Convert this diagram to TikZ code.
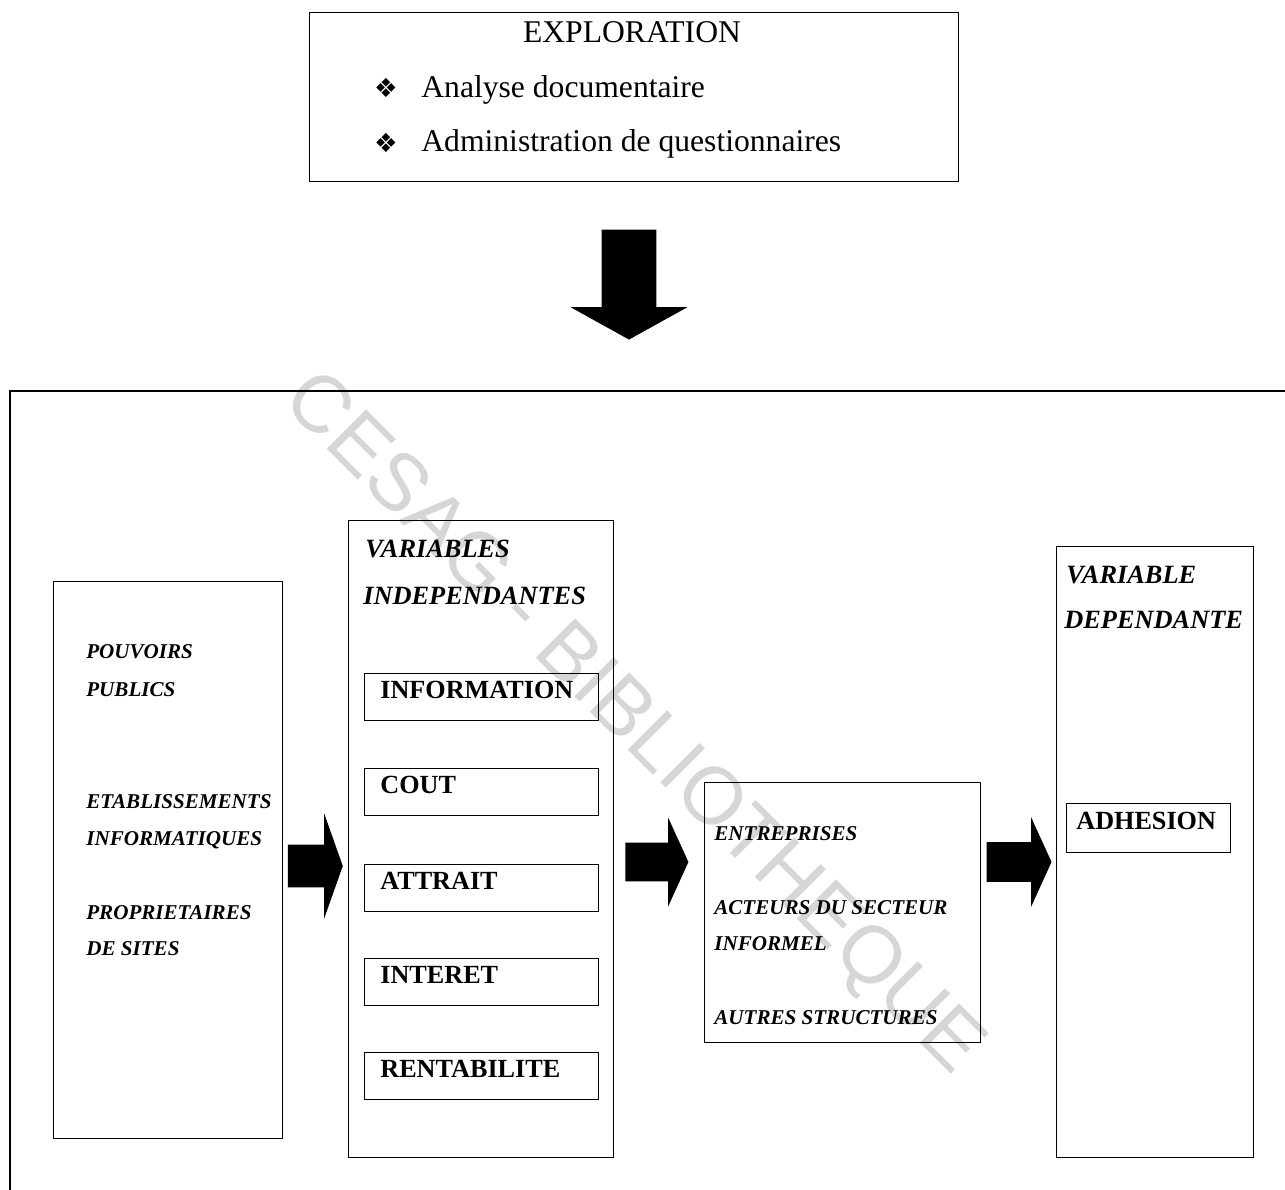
\documentclass[tikz,border=0pt]{standalone}
\usepackage{fontspec}
\setmainfont{Liberation Serif}
\newfontfamily\symbole{DejaVu Sans}
\newfontfamily\filigrane{Liberation Sans}
\usetikzlibrary{shapes.arrows}

\tikzset{
  boite/.style={draw, line width=0.8pt, inner sep=0pt, anchor=north west},
  etiq/.style={anchor=base west, inner sep=0pt, font=\fontsize{12}{14}\selectfont\bfseries\itshape},
  titre/.style={anchor=base west, inner sep=0pt, font=\fontsize{15}{17}\selectfont\bfseries\itshape},
  facteur/.style={anchor=base west, inner sep=0pt, font=\fontsize{14.9}{17}\selectfont\bfseries},
  fleche/.style={single arrow, fill=black, inner xsep=0pt, single arrow head indent=0pt},
  puce/.style={inner sep=0pt, font=\symbole\fontsize{15}{17}\selectfont},
}

\begin{document}
\begin{tikzpicture}[x=0.02cm, y=-0.02cm]
\def\u{0.02cm}
\useasboundingbox (0,0) rectangle (1285,1190);

% filigrane
\node[rotate=-45, inner sep=0pt, text=black!16, font=\filigrane\fontsize{46}{50}\selectfont] (cesag) at (632,725) {CESAG - BIBLIOTHEQUE};

% exploration
\node[boite, minimum width=649*\u, minimum height=169*\u] (explo) at (309,12) {};
\node[anchor=base, inner sep=0pt, font=\fontsize{18}{20}\selectfont] (exploration) at (632,42) {EXPLORATION};
\node[puce] (puce1) at (386,88) {❖};
\node[puce] (puce2) at (386,143) {❖};
\node[anchor=base west, inner sep=0pt, font=\fontsize{18}{20}\selectfont] (analyse) at (421,97) {Analyse documentaire};
\node[anchor=base west, inner sep=0pt, font=\fontsize{18}{20}\selectfont] (admin) at (421,151) {Administration de questionnaires};

% grosse fleche vers le bas
\node[fleche, rotate=-90, minimum height=110*\u, inner ysep=27*\u,
      single arrow head extend=31*\u, single arrow tip angle=122] (flechebas) at (629,277) {};

% cadre du modele
\draw[line width=0.8pt] (1285,391) -- (10,391) -- (10,1190);

% acteurs
\node[boite, minimum width=229*\u, minimum height=557*\u] (acteurs) at (53,581) {};
\node[etiq] (pouvoirs) at (86,658) {POUVOIRS};
\node[etiq] (publics) at (86,696) {PUBLICS};
\node[etiq] (etab) at (86,808) {ETABLISSEMENTS};
\node[etiq] (info) at (86,845) {INFORMATIQUES};
\node[etiq] (proprio) at (86,919) {PROPRIETAIRES};
\node[etiq] (sites) at (86,955) {DE SITES};

% variables independantes
\node[boite, minimum width=265*\u, minimum height=637*\u] (indep) at (348,520) {};
\node[titre] (variables) at (365,557) {VARIABLES};
\node[titre] (independantes) at (363,604) {INDEPENDANTES};
\foreach \nom/\y in {INFORMATION/673, COUT/768, ATTRAIT/864, INTERET/958, RENTABILITE/1052} {
  \node[boite, minimum width=234*\u, minimum height=47*\u] (b\nom) at (364,\y) {};
  \node[facteur] (t\nom) at (380,\y+25.5) {\nom};
}

% cibles
\node[boite, minimum width=276*\u, minimum height=260*\u] (cibles) at (704,782) {};
\node[etiq] (entreprises) at (714,840) {ENTREPRISES};
\node[etiq] (secteur) at (714,914) {ACTEURS DU SECTEUR};
\node[etiq] (informel) at (714,950) {INFORMEL};
\node[etiq] (autres) at (714,1024) {AUTRES STRUCTURES};

% variable dependante
\node[boite, minimum width=197*\u, minimum height=611*\u] (dep) at (1056,546) {};
\node[titre] (vardep) at (1066,583) {VARIABLE};
\node[titre] (dependante) at (1064,628) {DEPENDANTE};
\node[boite, minimum width=164*\u, minimum height=49*\u] (badhesion) at (1066,803) {};
\node[facteur] (adhesion) at (1076,829) {ADHESION};

% fleches
\node[fleche, minimum height=55*\u, inner ysep=21*\u, single arrow head extend=31*\u,
      single arrow tip angle=141] (fleche1) at (311.5,866) {};
\node[fleche, minimum height=63*\u, inner ysep=19*\u, single arrow head extend=25*\u,
      single arrow tip angle=131] (fleche2) at (652.5,862) {};
\node[fleche, minimum height=65*\u, inner ysep=19.5*\u, single arrow head extend=25*\u,
      single arrow tip angle=131] (fleche3) at (1014.5,862) {};
\end{tikzpicture}
\end{document}
